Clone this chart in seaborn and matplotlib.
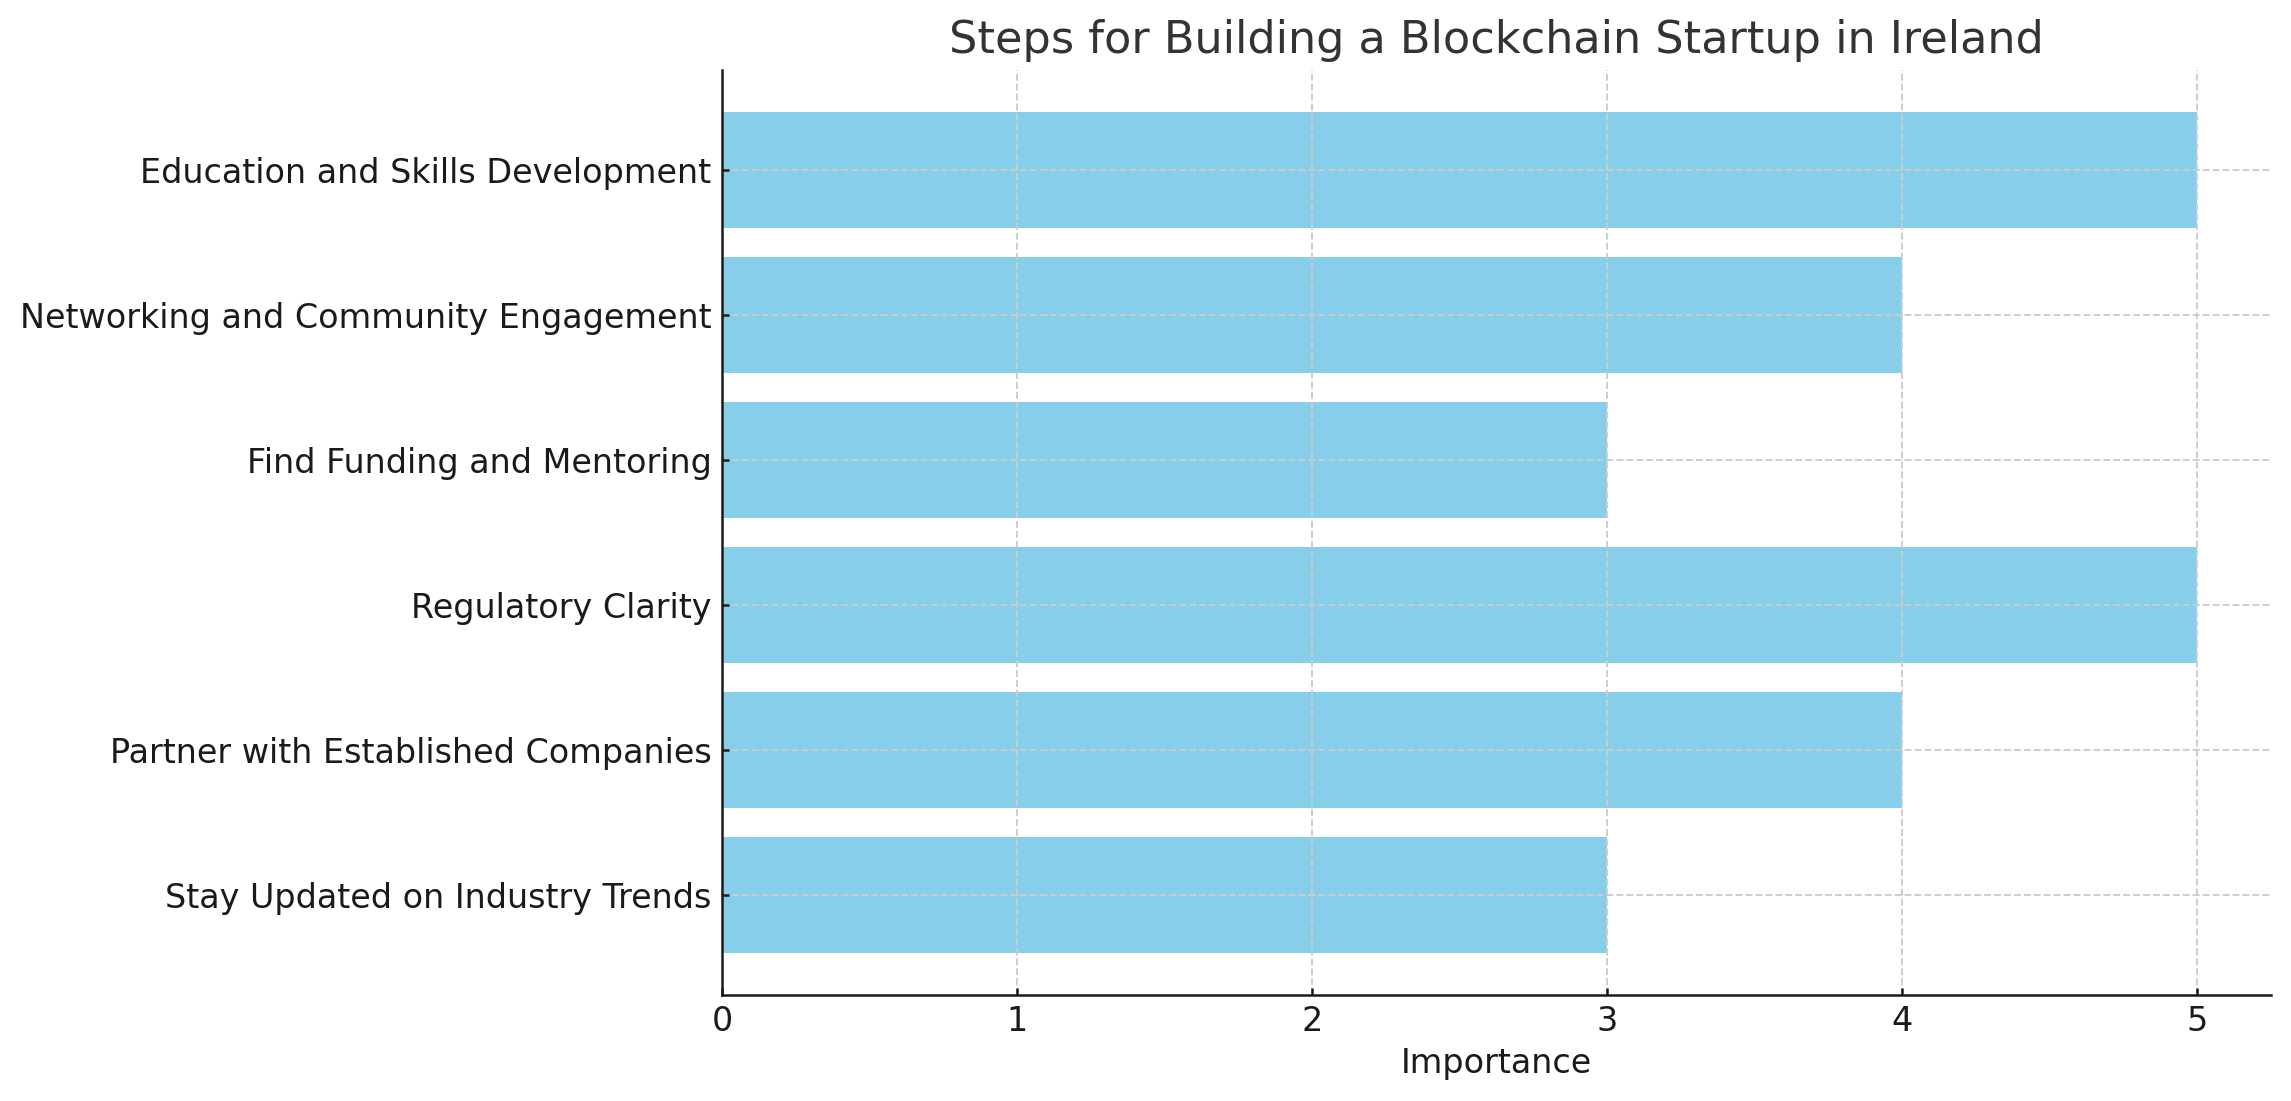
import matplotlib
matplotlib.use("Agg")
import matplotlib.pyplot as plt
import seaborn as sns
import pandas as pd

steps = [
    "Education and Skills Development",
    "Networking and Community Engagement",
    "Find Funding and Mentoring",
    "Regulatory Clarity",
    "Partner with Established Companies",
    "Stay Updated on Industry Trends",
]
importance = [5, 4, 3, 5, 4, 3]

df = pd.DataFrame({"Step": steps, "Importance": importance})

sns.set_style("ticks")
plt.rcParams['font.family'] = ['DejaVu Sans']

fig = plt.figure(figsize=(2291/150, 1101/150), dpi=150)
ax = fig.add_axes([722/2291, 1 - 995/1101, (2271-722)/2291, (995-70)/1101])

sns.barplot(data=df, y="Step", x="Importance", orient="h", color="#87CEEB",
            saturation=1, width=0.8, ax=ax, linewidth=0, edgecolor="none", zorder=1)

ax.set_xlim(0, 5.25)
ax.set_ylim(5.69, -0.69)
ax.set_axisbelow(False)
ax.grid(True, linestyle="--", color="#cccccc", linewidth=0.9)
for l in ax.get_xgridlines() + ax.get_ygridlines():
    l.set_zorder(2)
sns.despine(ax=ax)
for s in ["left", "bottom"]:
    ax.spines[s].set_linewidth(1.2)
    ax.spines[s].set_color("#1a1a1a")
    ax.spines[s].set_zorder(5)

ax.set_title("Steps for Building a Blockchain Startup in Ireland", fontsize=21.4, color="#333333", pad=8)
ax.set_xlabel("Importance", fontsize=16, color="#1a1a1a")
ax.set_ylabel("")
ax.tick_params(axis="both", labelsize=16, colors="#1a1a1a", length=3.5, width=1.2,
               direction="in", pad=5)

fig.savefig("out.png", dpi=150)
